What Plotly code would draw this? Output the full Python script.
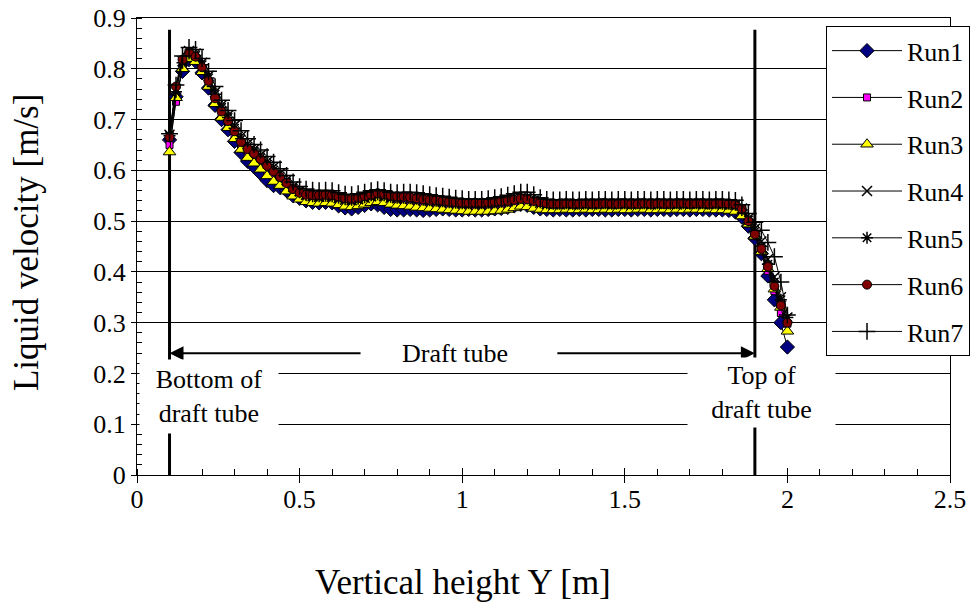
import plotly.graph_objects as go

# Axial position along the column [m]
height_y = [0.10, 0.12, 0.14, 0.16, 0.18, 0.20, 0.22, 0.24, 0.26, 0.28,
            0.30, 0.32, 0.34, 0.36, 0.38, 0.40, 0.42, 0.44, 0.46, 0.48,
            0.50, 0.52, 0.54, 0.56, 0.58, 0.60, 0.62, 0.64, 0.66, 0.68,
            0.70, 0.72, 0.74, 0.76, 0.78, 0.80, 0.82, 0.84, 0.86, 0.88,
            0.90, 0.92, 0.94, 0.96, 0.98, 1.00, 1.02, 1.04, 1.06, 1.08,
            1.10, 1.12, 1.14, 1.16, 1.18, 1.20, 1.22, 1.24, 1.26, 1.28,
            1.30, 1.32, 1.34, 1.36, 1.38, 1.40, 1.42, 1.44, 1.46, 1.48,
            1.50, 1.52, 1.54, 1.56, 1.58, 1.60, 1.62, 1.64, 1.66, 1.68,
            1.70, 1.72, 1.74, 1.76, 1.78, 1.80, 1.82, 1.84, 1.86, 1.88,
            1.90, 1.92, 1.94, 1.96, 1.98, 2.00]

# Liquid velocity [m/s] for each run
run1 = [0.660, 0.745, 0.795, 0.818, 0.815, 0.792, 0.762, 0.728, 0.700, 0.680,
        0.657, 0.635, 0.618, 0.607, 0.594, 0.580, 0.570, 0.566, 0.560, 0.550,
        0.545, 0.540, 0.537, 0.536, 0.537, 0.536, 0.530, 0.526, 0.524, 0.527,
        0.531, 0.534, 0.532, 0.527, 0.523, 0.522, 0.522, 0.523, 0.522, 0.521,
        0.522, 0.523, 0.524, 0.523, 0.522, 0.522, 0.523, 0.522, 0.522, 0.523,
        0.524, 0.525, 0.527, 0.530, 0.533, 0.531, 0.527, 0.524, 0.523, 0.522,
        0.523, 0.522, 0.522, 0.523, 0.522, 0.523, 0.523, 0.522, 0.522, 0.523,
        0.523, 0.522, 0.523, 0.523, 0.522, 0.523, 0.523, 0.522, 0.523, 0.523,
        0.522, 0.523, 0.523, 0.522, 0.522, 0.522, 0.521, 0.518, 0.508, 0.490,
        0.466, 0.436, 0.392, 0.345, 0.300, 0.252]

run2 = [0.650, 0.735, 0.805, 0.825, 0.818, 0.797, 0.768, 0.735, 0.708, 0.688,
        0.667, 0.646, 0.630, 0.620, 0.609, 0.596, 0.585, 0.576, 0.566, 0.556,
        0.550, 0.545, 0.543, 0.543, 0.545, 0.544, 0.540, 0.537, 0.535, 0.537,
        0.541, 0.544, 0.546, 0.543, 0.540, 0.538, 0.537, 0.536, 0.534, 0.532,
        0.531, 0.530, 0.530, 0.529, 0.528, 0.527, 0.527, 0.527, 0.527, 0.528,
        0.529, 0.530, 0.531, 0.533, 0.535, 0.534, 0.531, 0.528, 0.527, 0.526,
        0.527, 0.527, 0.526, 0.527, 0.527, 0.526, 0.527, 0.527, 0.526, 0.527,
        0.527, 0.526, 0.527, 0.527, 0.527, 0.526, 0.527, 0.527, 0.527, 0.527,
        0.526, 0.527, 0.527, 0.527, 0.527, 0.526, 0.526, 0.524, 0.515, 0.495,
        0.470, 0.440, 0.402, 0.362, 0.319, 0.298]

run3 = [0.636, 0.743, 0.800, 0.820, 0.814, 0.794, 0.765, 0.731, 0.704, 0.684,
        0.662, 0.641, 0.625, 0.614, 0.602, 0.589, 0.578, 0.570, 0.559, 0.549,
        0.543, 0.538, 0.536, 0.535, 0.536, 0.535, 0.532, 0.529, 0.528, 0.530,
        0.533, 0.536, 0.538, 0.536, 0.533, 0.531, 0.530, 0.529, 0.527, 0.526,
        0.525, 0.524, 0.523, 0.522, 0.521, 0.520, 0.519, 0.519, 0.519, 0.519,
        0.520, 0.521, 0.523, 0.526, 0.529, 0.528, 0.525, 0.523, 0.522, 0.522,
        0.522, 0.523, 0.522, 0.522, 0.523, 0.522, 0.522, 0.523, 0.522, 0.523,
        0.522, 0.522, 0.523, 0.523, 0.522, 0.522, 0.523, 0.522, 0.523, 0.522,
        0.523, 0.523, 0.522, 0.523, 0.522, 0.522, 0.521, 0.519, 0.510, 0.494,
        0.470, 0.440, 0.406, 0.366, 0.330, 0.283]

run4 = [0.670, 0.760, 0.815, 0.835, 0.830, 0.812, 0.786, 0.754, 0.728, 0.708,
        0.688, 0.667, 0.652, 0.641, 0.630, 0.617, 0.606, 0.594, 0.581, 0.568,
        0.559, 0.552, 0.549, 0.548, 0.549, 0.548, 0.545, 0.542, 0.541, 0.543,
        0.546, 0.549, 0.551, 0.549, 0.546, 0.545, 0.545, 0.544, 0.543, 0.541,
        0.540, 0.539, 0.538, 0.537, 0.536, 0.535, 0.535, 0.534, 0.534, 0.535,
        0.536, 0.537, 0.539, 0.542, 0.545, 0.544, 0.540, 0.536, 0.534, 0.533,
        0.533, 0.534, 0.533, 0.533, 0.534, 0.533, 0.534, 0.534, 0.533, 0.534,
        0.534, 0.533, 0.534, 0.534, 0.533, 0.534, 0.534, 0.534, 0.533, 0.534,
        0.534, 0.534, 0.533, 0.534, 0.534, 0.533, 0.533, 0.532, 0.525, 0.505,
        0.485, 0.460, 0.425, 0.390, 0.350, 0.310]

run5 = [0.668, 0.755, 0.812, 0.830, 0.826, 0.808, 0.782, 0.750, 0.724, 0.704,
        0.683, 0.662, 0.647, 0.637, 0.625, 0.612, 0.600, 0.589, 0.577, 0.565,
        0.557, 0.551, 0.549, 0.549, 0.550, 0.549, 0.546, 0.543, 0.542, 0.544,
        0.547, 0.551, 0.553, 0.551, 0.548, 0.546, 0.546, 0.545, 0.544, 0.542,
        0.541, 0.540, 0.539, 0.537, 0.536, 0.535, 0.535, 0.535, 0.535, 0.536,
        0.537, 0.538, 0.540, 0.543, 0.546, 0.545, 0.541, 0.537, 0.535, 0.534,
        0.534, 0.535, 0.534, 0.534, 0.535, 0.534, 0.535, 0.535, 0.534, 0.535,
        0.535, 0.534, 0.535, 0.535, 0.534, 0.535, 0.535, 0.534, 0.535, 0.535,
        0.534, 0.535, 0.535, 0.534, 0.535, 0.534, 0.534, 0.532, 0.522, 0.502,
        0.480, 0.450, 0.415, 0.380, 0.345, 0.310]

run6 = [0.665, 0.765, 0.818, 0.832, 0.824, 0.803, 0.776, 0.742, 0.716, 0.697,
        0.677, 0.656, 0.642, 0.633, 0.622, 0.609, 0.598, 0.587, 0.575, 0.563,
        0.556, 0.552, 0.551, 0.551, 0.552, 0.551, 0.548, 0.545, 0.544, 0.546,
        0.549, 0.552, 0.555, 0.553, 0.550, 0.548, 0.548, 0.547, 0.545, 0.543,
        0.542, 0.541, 0.540, 0.538, 0.537, 0.536, 0.536, 0.536, 0.536, 0.537,
        0.538, 0.539, 0.540, 0.542, 0.544, 0.543, 0.540, 0.537, 0.535, 0.534,
        0.534, 0.535, 0.534, 0.534, 0.535, 0.534, 0.534, 0.535, 0.534, 0.534,
        0.535, 0.534, 0.534, 0.535, 0.534, 0.535, 0.534, 0.534, 0.535, 0.535,
        0.534, 0.535, 0.535, 0.534, 0.535, 0.535, 0.534, 0.533, 0.524, 0.500,
        0.474, 0.445, 0.410, 0.372, 0.334, 0.300]

run7 = [0.672, 0.768, 0.825, 0.842, 0.838, 0.820, 0.795, 0.765, 0.738, 0.718,
        0.698, 0.678, 0.662, 0.651, 0.640, 0.627, 0.616, 0.603, 0.590, 0.577,
        0.568, 0.563, 0.561, 0.560, 0.561, 0.560, 0.556, 0.553, 0.552, 0.554,
        0.557, 0.560, 0.562, 0.560, 0.557, 0.556, 0.557, 0.557, 0.556, 0.554,
        0.552, 0.550, 0.549, 0.547, 0.545, 0.544, 0.543, 0.543, 0.543, 0.544,
        0.546, 0.548, 0.551, 0.554, 0.557, 0.557, 0.552, 0.546, 0.543, 0.542,
        0.542, 0.543, 0.542, 0.542, 0.543, 0.542, 0.543, 0.543, 0.542, 0.543,
        0.543, 0.542, 0.543, 0.543, 0.542, 0.543, 0.543, 0.542, 0.543, 0.543,
        0.542, 0.543, 0.543, 0.542, 0.543, 0.543, 0.542, 0.541, 0.532, 0.515,
        0.498, 0.482, 0.458, 0.430, 0.380, 0.315]

run_names = ["Run1", "Run2", "Run3", "Run4", "Run5", "Run6", "Run7"]
run_values = [run1, run2, run3, run4, run5, run6, run7]

# Draft tube ends [m]
tube_bottom = 0.1
tube_top = 1.9

FONT = "Liberation Serif, Times New Roman, serif"

marker_styles = [
    dict(symbol="diamond", size=11, color="#000080", line=dict(color="black", width=1)),
    dict(symbol="square", size=7, color="#FF00FF", line=dict(color="black", width=1)),
    dict(symbol="triangle-up", size=11, color="#FFFF00", line=dict(color="black", width=1)),
    dict(symbol="x-thin-open", size=10, color="black", line=dict(color="black", width=1.5)),
    dict(symbol="asterisk-open", size=10, color="black", line=dict(color="black", width=1.5)),
    dict(symbol="circle", size=9, color="#800000", line=dict(color="black", width=1)),
    dict(symbol="cross-thin-open", size=12, color="black", line=dict(color="black", width=1.5)),
]

fig = go.Figure()
for name, vals, mk in zip(run_names, run_values, marker_styles):
    fig.add_trace(go.Scatter(
        x=height_y, y=vals, name=name, mode="lines+markers",
        line=dict(color="black", width=1), marker=mk, legendgroup=name,
    ))

# empty trace so the overlay axes (inner halves of crossing ticks) are drawn
fig.add_trace(go.Scatter(x=[], y=[], xaxis="x2", yaxis="y2",
                         showlegend=False, hoverinfo="skip"))

tickfont = dict(family=FONT, size=26, color="black")

fig.update_layout(
    width=975, height=607,
    margin=dict(l=137, r=25, t=18, b=132, autoexpand=False),
    paper_bgcolor="white", plot_bgcolor="white",
    font=dict(family=FONT, size=26, color="black"),
    xaxis=dict(range=[0, 2.5], tick0=0, dtick=0.5, ticks="outside", ticklen=7,
               tickcolor="black", tickwidth=1, showline=True, linecolor="black",
               linewidth=1, mirror=True, showgrid=False, zeroline=False,
               tickfont=tickfont, ticklabelstandoff=-6,
               minor=dict(dtick=0.1, ticks="inside", ticklen=6,
                          tickcolor="black", showgrid=False)),
    yaxis=dict(range=[0, 0.9], tick0=0, dtick=0.1, ticks="outside", ticklen=5,
               tickcolor="black", tickwidth=1, showline=True, linecolor="black",
               linewidth=1, mirror=True, showgrid=True, gridcolor="black",
               gridwidth=1, zeroline=False, tickfont=tickfont,
               minor=dict(dtick=0.02, ticks="inside", ticklen=5,
                          tickcolor="black", showgrid=False)),
    xaxis2=dict(overlaying="x", matches="x", anchor="y", side="bottom",
                range=[0, 2.5], tick0=0, dtick=0.5, ticks="inside", ticklen=7,
                tickcolor="black", showticklabels=False, showgrid=False,
                zeroline=False, showline=False),
    yaxis2=dict(overlaying="y", matches="y", anchor="x", side="left",
                range=[0, 0.9], tick0=0, dtick=0.1, ticks="inside", ticklen=5,
                tickcolor="black", showticklabels=False, showgrid=False,
                zeroline=False, showline=False),
    legend=dict(x=0.8475, y=0.982, xanchor="left", yanchor="top",
                bgcolor="white", bordercolor="black", borderwidth=1,
                font=dict(family=FONT, size=26, color="black"),
                tracegroupgap=10, itemwidth=70),
    showlegend=True,
)

# draft tube bottom / top markers
for xv in (tube_bottom, tube_top):
    fig.add_shape(type="line", xref="x", yref="y", x0=xv, x1=xv, y0=0, y1=0.877,
                  line=dict(color="black", width=3), layer="between")

arrow_y = 0.240
# double-headed arrow spanning the draft tube, split around its label
fig.add_annotation(x=tube_bottom, y=arrow_y, ax=0.692, ay=arrow_y,
                   xref="x", yref="y", axref="x", ayref="y", text="",
                   showarrow=True, arrowhead=2, arrowsize=1.4, arrowwidth=2,
                   arrowcolor="black")
fig.add_annotation(x=tube_top, y=arrow_y, ax=1.288, ay=arrow_y,
                   xref="x", yref="y", axref="x", ayref="y", text="",
                   showarrow=True, arrowhead=2, arrowsize=1.4, arrowwidth=2,
                   arrowcolor="black")
fig.add_annotation(x=0.978, y=arrow_y, xref="x", yref="y", text="Draft tube",
                   showarrow=False, font=dict(family=FONT, size=26, color="black"))

fig.add_annotation(x=0.221, y=0.155, xref="x", yref="y",
                   text="Bottom of<br>draft tube", showarrow=False,
                   bgcolor="white", width=138, height=73, borderpad=0,
                   font=dict(family=FONT, size=26, color="black"))
fig.add_annotation(x=1.920, y=0.162, xref="x", yref="y",
                   text="Top of<br>draft tube", showarrow=False,
                   bgcolor="white", width=147, height=69, borderpad=0,
                   font=dict(family=FONT, size=26, color="black"))

# axis titles
fig.add_annotation(x=0.401, y=-0.236, xref="paper", yref="paper",
                   text="Vertical height Y [m]", showarrow=False,
                   xanchor="center", yanchor="middle",
                   font=dict(family=FONT, size=35, color="black"))
fig.add_annotation(x=-0.135, y=0.508, xref="paper", yref="paper",
                   text="Liquid velocity [m/s]", showarrow=False, textangle=-90,
                   xanchor="center", yanchor="middle",
                   font=dict(family=FONT, size=35, color="black"))

fig.write_html("out.html")
